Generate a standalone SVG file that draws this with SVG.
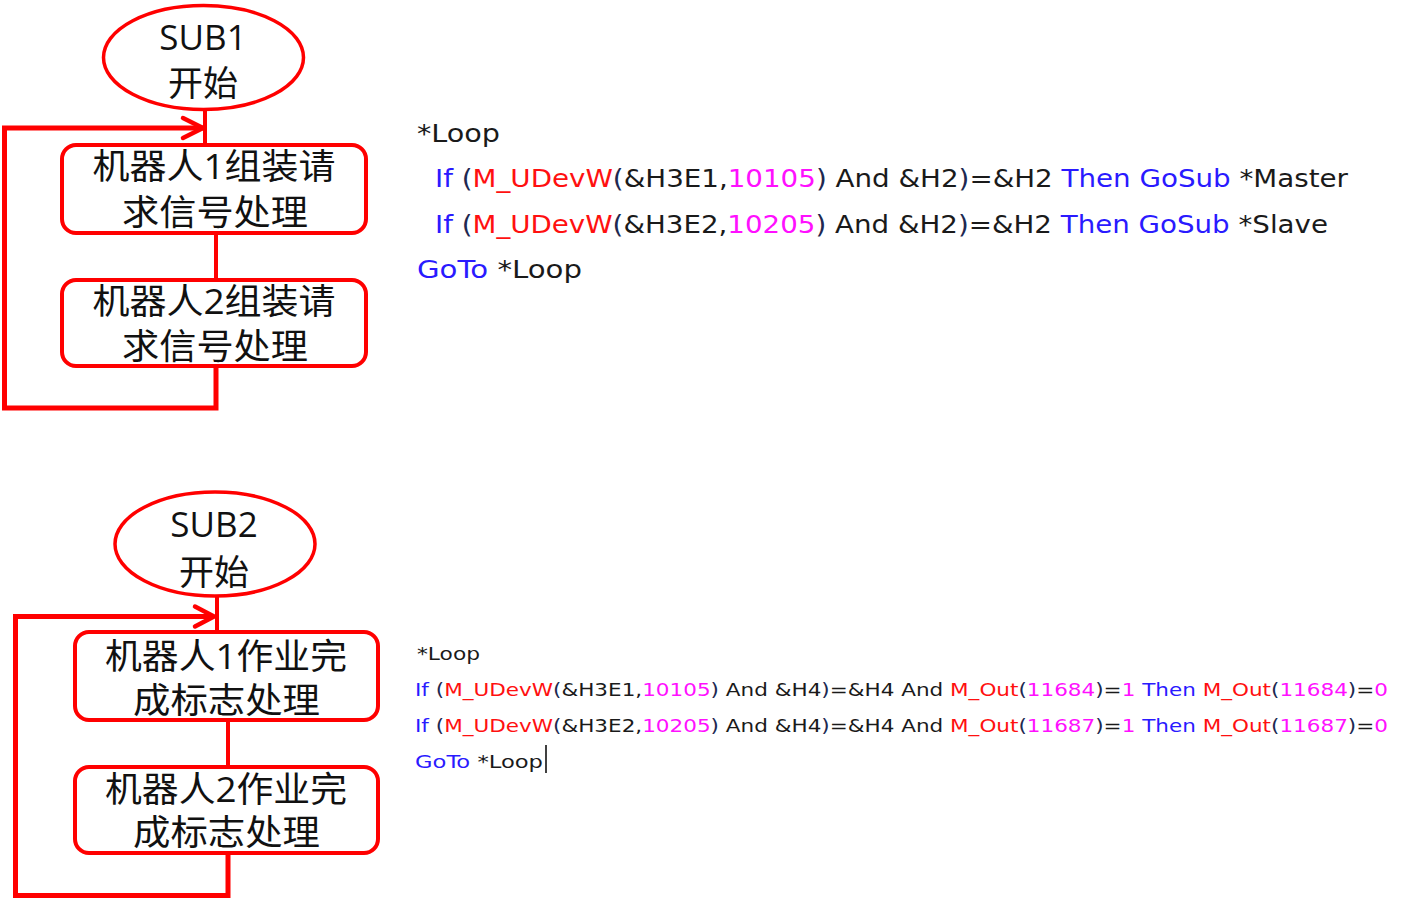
<svg xmlns="http://www.w3.org/2000/svg" width="1401" height="900" viewBox="0 0 1401 900">
<defs>
<style>
.shape{fill:#fff;stroke:#FF0000;stroke-width:4}
.ell{fill:#fff;stroke:#FF0000;stroke-width:3.5}
.wire{fill:none;stroke:#FF0000;stroke-width:5;stroke-linejoin:miter}
.link{fill:none;stroke:#FF0000;stroke-width:4}
.head{fill:none;stroke:#FF0000;stroke-width:4.5;stroke-linecap:round;stroke-linejoin:round}
.lbl{font-family:"Open Sans","Noto Sans CJK SC",sans-serif;font-size:35px;fill:#111;text-anchor:middle}
.code{font-family:"DejaVu Sans","Noto Sans",sans-serif;fill:#1a1a1a}
.c1{font-size:24px}
.c2{font-size:18.5px}
.kw{fill:#2A1AFF}
.fn{fill:#FF1010}
.num{fill:#FF10FF}
.par{fill:#202850}
</style>
</defs>
<rect width="1401" height="900" fill="#fff"/>

<g id="connectors">
<line class="link" x1="205" y1="108" x2="205" y2="145"/>
<line class="link" x1="216" y1="233" x2="216" y2="280"/>
<path class="wire" d="M216,366 V408 H4.5 V128 H203"/>
<polyline class="head" points="183,118 203,128 183,138"/>
<line class="link" x1="217" y1="594" x2="217" y2="632"/>
<line class="link" x1="228" y1="720" x2="228" y2="767"/>
<path class="wire" d="M228,853 V895.5 H15.5 V616.5 H213"/>
<polyline class="head" points="195,606.5 214,616.5 195,626.5"/>
</g>

<g id="sub1-start">
<ellipse class="ell" cx="203.5" cy="57.5" rx="100" ry="52"/>
<text class="lbl" x="203" y="50">SUB1</text>
<text class="lbl" x="203" y="96">开始</text>
</g>
<g id="sub1-robot1">
<rect class="shape" x="62" y="145" width="304" height="88" rx="14"/>
<text class="lbl" x="214" y="179" textLength="243" lengthAdjust="spacingAndGlyphs">机器人1组装请</text>
<text class="lbl" x="215" y="225" textLength="186" lengthAdjust="spacingAndGlyphs">求信号处理</text>
</g>
<g id="sub1-robot2">
<rect class="shape" x="62" y="280" width="304" height="86" rx="14"/>
<text class="lbl" x="214" y="314" textLength="243" lengthAdjust="spacingAndGlyphs">机器人2组装请</text>
<text class="lbl" x="215" y="359" textLength="186" lengthAdjust="spacingAndGlyphs">求信号处理</text>
</g>

<g id="sub2-start">
<ellipse class="ell" cx="215" cy="544" rx="100" ry="52"/>
<text class="lbl" x="214" y="537">SUB2</text>
<text class="lbl" x="214" y="585">开始</text>
</g>
<g id="sub2-robot1">
<rect class="shape" x="75" y="632" width="303" height="88" rx="14"/>
<text class="lbl" x="226" y="669" textLength="242" lengthAdjust="spacingAndGlyphs">机器人1作业完</text>
<text class="lbl" x="226.5" y="713" textLength="187" lengthAdjust="spacingAndGlyphs">成标志处理</text>
</g>
<g id="sub2-robot2">
<rect class="shape" x="75" y="767" width="303" height="86" rx="14"/>
<text class="lbl" x="226" y="802" textLength="242" lengthAdjust="spacingAndGlyphs">机器人2作业完</text>
<text class="lbl" x="226.5" y="845" textLength="187" lengthAdjust="spacingAndGlyphs">成标志处理</text>
</g>

<g id="code1">
<text class="code c1" x="417" y="142" textLength="83" lengthAdjust="spacingAndGlyphs">*Loop</text>
<text class="code c1" x="435" y="187" textLength="913" lengthAdjust="spacingAndGlyphs"><tspan class="kw">If</tspan> <tspan class="par">(</tspan><tspan class="fn">M_UDevW</tspan><tspan class="par">(</tspan>&amp;H3E1,<tspan class="num">10105</tspan><tspan class="par">)</tspan> And &amp;H2<tspan class="par">)</tspan>=&amp;H2 <tspan class="kw">Then GoSub</tspan> *Master</text>
<text class="code c1" x="435" y="233" textLength="893" lengthAdjust="spacingAndGlyphs"><tspan class="kw">If</tspan> <tspan class="par">(</tspan><tspan class="fn">M_UDevW</tspan><tspan class="par">(</tspan>&amp;H3E2,<tspan class="num">10205</tspan><tspan class="par">)</tspan> And &amp;H2<tspan class="par">)</tspan>=&amp;H2 <tspan class="kw">Then GoSub</tspan> *Slave</text>
<text class="code c1" x="417" y="278" textLength="165" lengthAdjust="spacingAndGlyphs"><tspan class="kw">GoTo</tspan> *Loop</text>
</g>

<g id="code2">
<text class="code c2" x="417" y="660" textLength="63" lengthAdjust="spacingAndGlyphs">*Loop</text>
<text class="code c2" x="415" y="696" textLength="973" lengthAdjust="spacingAndGlyphs"><tspan class="kw">If</tspan> <tspan class="par">(</tspan><tspan class="fn">M_UDevW</tspan><tspan class="par">(</tspan>&amp;H3E1,<tspan class="num">10105</tspan><tspan class="par">)</tspan> And &amp;H4<tspan class="par">)</tspan>=&amp;H4 And <tspan class="fn">M_Out</tspan><tspan class="par">(</tspan><tspan class="num">11684</tspan><tspan class="par">)</tspan>=<tspan class="num">1</tspan> <tspan class="kw">Then</tspan> <tspan class="fn">M_Out</tspan><tspan class="par">(</tspan><tspan class="num">11684</tspan><tspan class="par">)</tspan>=<tspan class="num">0</tspan></text>
<text class="code c2" x="415" y="732" textLength="973" lengthAdjust="spacingAndGlyphs"><tspan class="kw">If</tspan> <tspan class="par">(</tspan><tspan class="fn">M_UDevW</tspan><tspan class="par">(</tspan>&amp;H3E2,<tspan class="num">10205</tspan><tspan class="par">)</tspan> And &amp;H4<tspan class="par">)</tspan>=&amp;H4 And <tspan class="fn">M_Out</tspan><tspan class="par">(</tspan><tspan class="num">11687</tspan><tspan class="par">)</tspan>=<tspan class="num">1</tspan> <tspan class="kw">Then</tspan> <tspan class="fn">M_Out</tspan><tspan class="par">(</tspan><tspan class="num">11687</tspan><tspan class="par">)</tspan>=<tspan class="num">0</tspan></text>
<text class="code c2" x="415" y="768" textLength="128" lengthAdjust="spacingAndGlyphs"><tspan class="kw">GoTo</tspan> *Loop</text>
<line x1="546" y1="745" x2="546" y2="773" stroke="#111" stroke-width="1.6"/>
</g>
</svg>
